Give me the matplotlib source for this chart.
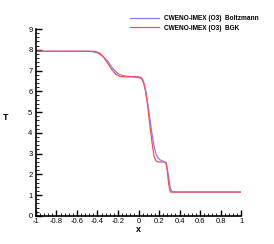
import matplotlib
matplotlib.use("Agg")
import matplotlib.pyplot as plt
from matplotlib.ticker import MultipleLocator, FuncFormatter

plt.rcParams["font.family"] = ["Liberation Sans", "DejaVu Sans"]
plt.rcParams["axes.unicode_minus"] = False

# Boltzmann solution (blue)
x_boltz = [-1, -0.5, -0.45, -0.4, -0.35, -0.3, -0.25, -0.2, -0.15, -0.1, -0.05, 0.0,
           0.03, 0.05, 0.07, 0.09, 0.11, 0.13, 0.15, 0.17, 0.19, 0.21, 0.23, 0.25,
           0.27, 0.29, 0.31, 0.33, 0.35, 1]
t_boltz = [7.93, 7.93, 7.91, 7.85, 7.7, 7.45, 7.1, 6.85, 6.75, 6.72, 6.7, 6.67,
           6.6, 6.4, 6.0, 5.4, 4.7, 4.0, 3.4, 3.0, 2.8, 2.7, 2.65, 2.62,
           2.55, 2.0, 1.3, 1.17, 1.15, 1.15]

# BGK solution (red)
x_bgk = [-1, -0.45, -0.42, -0.38, -0.34, -0.3, -0.26, -0.22, -0.18, -0.14, -0.1, 0.0,
         0.03, 0.05, 0.07, 0.09, 0.11, 0.13, 0.15, 0.17, 0.19, 0.25, 0.265, 0.28,
         0.295, 0.31, 1]
t_bgk = [7.93, 7.93, 7.92, 7.85, 7.65, 7.35, 7.05, 6.82, 6.72, 6.7, 6.7, 6.7,
         6.65, 6.45, 6.0, 5.3, 4.4, 3.6, 2.9, 2.65, 2.6, 2.6, 2.58, 2.2,
         1.5, 1.15, 1.15]

labels = ["CWENO-IMEX (O3)  Boltzmann", "CWENO-IMEX (O3)  BGK"]

fig = plt.figure(figsize=(2.74, 2.44), dpi=100)
ax = fig.add_axes([0.131, 0.115, 0.749, 0.766])

ax.plot(x_boltz, t_boltz, color="#7f7fff", lw=0.9, label=labels[0])
ax.plot(x_bgk, t_bgk, color="#ff4d4d", lw=0.9, label=labels[1])

ax.set_xlim(-1, 1)
ax.set_ylim(0, 9)
ax.spines["top"].set_visible(False)
ax.spines["right"].set_visible(False)
for s in ["left", "bottom"]:
    ax.spines[s].set_linewidth(1.2)

ax.xaxis.set_major_locator(MultipleLocator(0.2))
ax.xaxis.set_minor_locator(MultipleLocator(0.04))
ax.yaxis.set_major_locator(MultipleLocator(1))
ax.yaxis.set_minor_locator(MultipleLocator(0.2))
ax.xaxis.set_major_formatter(FuncFormatter(lambda v, p: f"{round(v, 1):g}"))
ax.tick_params(which="major", direction="in", length=4, width=1.0, labelsize=5.5)
ax.tick_params(axis="x", pad=1.5)
ax.tick_params(axis="y", pad=2.5)
ax.tick_params(which="minor", direction="in", length=2, width=0.6)

ax.set_xlabel("x", fontsize=6.5, fontweight="bold", labelpad=0)
ax.set_ylabel("T", fontsize=6.5, fontweight="bold", rotation=0, labelpad=16)

ax.legend(loc="upper left", bbox_to_anchor=(0.462, 0.95), bbox_transform=fig.transFigure,
          frameon=False, prop={"weight": "bold", "size": 4.7},
          handlelength=4.4, handletextpad=0.9, labelspacing=0.35, borderpad=0)

fig.savefig("out.png", dpi=100)
